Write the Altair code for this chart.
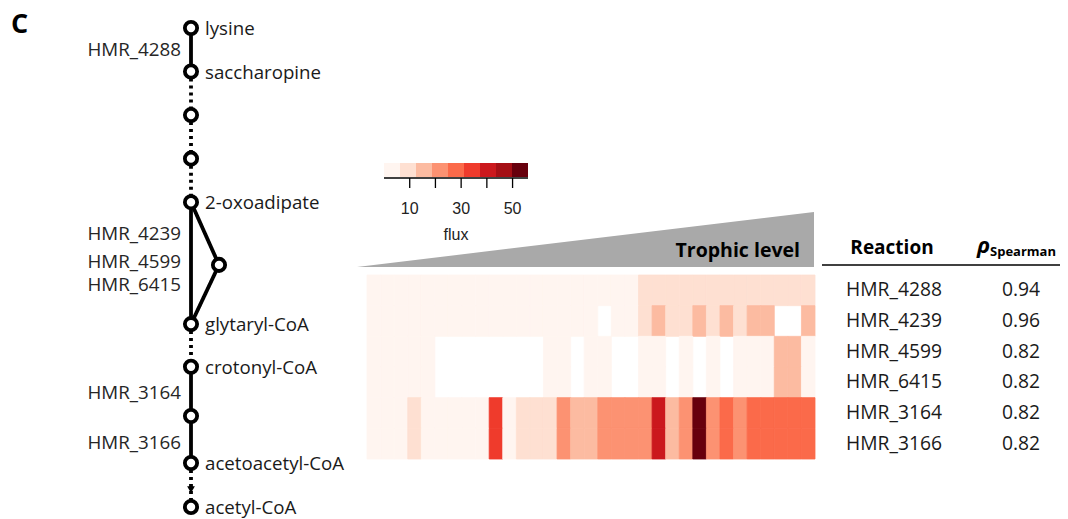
import altair as alt
import pandas as pd

# ---------------- data ----------------
reactions = ["HMR_4288", "HMR_4239", "HMR_4599", "HMR_6415", "HMR_3164", "HMR_3166"]
rho_values = ["0.94", "0.96", "0.82", "0.82", "0.82", "0.82"]

# flux per sample (33 samples ordered by trophic level); None = no flux (white cell)
flux_4288 = [3] * 20 + [9] * 13
flux_4239 = [3] * 17 + [None] + [3, 3] + [9, 15, 9, 9, 15, 9, 15, 9, 15, 15, None, None, 15]
flux_4599 = ([3] * 5 + [None] * 8 + [3, 3, None, 3, 3, None, None, 3, 3, None, 3, None, 3, None]
             + [3, 3, 3, 15, 15, 3])
flux_6415 = list(flux_4599)
flux_3164 = ([3, 3, 3, 9, 3, 3, 3, 3, 3, 34, 3, 9, 9, 9, 21, 15, 15, 21, 21, 21, 21, 40, 15, 21, 54,
              21, 28, 21, 28, 28, 28, 28, 28])
flux_3166 = list(flux_3164)
flux_rows = [flux_4288, flux_4239, flux_4599, flux_6415, flux_3164, flux_3166]

reds9 = ["#fff5f0", "#fee0d2", "#fcbba1", "#fc9272", "#fb6a4a",
         "#ef3b2c", "#cb181d", "#a50f15", "#67000d"]
flux_max = 56
legend_lo = [0, 6.22, 12.44, 18.67, 24.89, 31.11, 37.33, 43.56, 49.78]
legend_hi = [6.22, 12.44, 18.67, 24.89, 31.11, 37.33, 43.56, 49.78, 56]
legend_ticks = [10, 20, 30, 40, 50]
legend_labels = [10, 30, 50]

# pathway: nodes (level = vertical slot, branch = 0 main line / 1 side)
node_names = ["lysine", "saccharopine", "", "", "2-oxoadipate", "", "glytaryl-CoA",
              "crotonyl-CoA", "", "acetoacetyl-CoA", "acetyl-CoA"]
node_level = [0, 1, 2, 3, 4, 5.44, 6.8, 7.78, 8.91, 9.99, 11]
node_branch = [0, 0, 0, 0, 0, 1, 0, 0, 0, 0, 0]
edge_from = [0, 1, 2, 3, 4, 4, 5, 6, 7, 8, 9]
edge_to = [1, 2, 3, 4, 6, 5, 6, 7, 8, 9, 10]
edge_style = ["solid", "dotted", "dotted", "dotted", "solid", "solid", "solid",
              "dotted", "solid", "solid", "dotted"]
arrow_level = [10.6]
rxn_label_names = ["HMR_4288", "HMR_4239", "HMR_4599", "HMR_6415", "HMR_3164", "HMR_3166"]
rxn_label_level = [0.5, 4.74, 5.37, 5.91, 8.39, 9.53]

FONT = "Open Sans"
TXT = "#1a1a1a"

# ---------------- tables ----------------
cells = []
for r, row in zip(reactions, flux_rows):
    for i, v in enumerate(row):
        if v is not None:
            cells.append({"reaction": r, "col": i, "col_end": i + 1, "flux": v})
heat_df = pd.DataFrame(cells)

nodes_df = pd.DataFrame({"name": node_names, "level": node_level, "branch": node_branch})
edges_df = pd.DataFrame({
    "y": [node_level[a] for a in edge_from], "y2": [node_level[b] for b in edge_to],
    "x": [node_branch[a] for a in edge_from], "x2": [node_branch[b] for b in edge_to],
    "style": edge_style})
arrow_df = pd.DataFrame({"level": arrow_level, "branch": [0]})
rxn_df = pd.DataFrame({"name": rxn_label_names, "level": rxn_label_level, "branch": 0})
legend_df = pd.DataFrame({"lo": legend_lo, "hi": legend_hi,
                          "mid": [(a + b) / 2 for a, b in zip(legend_lo, legend_hi)]})
ticks_df = pd.DataFrame({"v": legend_ticks})
labels_df = pd.DataFrame({"v": legend_labels})
table_df = pd.DataFrame({"reaction": reactions, "rho": rho_values})
tri_df = pd.DataFrame({"t": [0, 1], "lvl": [0, 1]})

# ---------------- scales ----------------
px = alt.Scale(domain=[0, 1], range=[183, 211])
py = alt.Scale(domain=[0, 11], range=[20, 499])
hx = alt.Scale(domain=[0, 33], range=[359, 807])
hy = alt.Scale(domain=reactions, range=[267, 451], paddingInner=0, paddingOuter=0)
lx = alt.Scale(domain=[0, flux_max], range=[376, 520])
cscale = alt.Scale(type="quantize", domain=[0, flux_max], range=reds9, nice=False)

# ---------------- pathway ----------------
edges = alt.Chart(edges_df).mark_rule(strokeWidth=3.8, color="black").encode(
    x=alt.X("x:Q", scale=px, axis=None), x2="x2:Q",
    y=alt.Y("y:Q", scale=py, axis=None), y2="y2:Q",
    strokeDash=alt.StrokeDash("style:N", scale=alt.Scale(domain=["solid", "dotted"],
                                                          range=[[1, 0], [3, 4]]), legend=None))
arrow = alt.Chart(arrow_df).mark_point(shape="triangle-down", filled=True, color="black",
                                       size=60, opacity=1).encode(
    x=alt.X("branch:Q", scale=px, axis=None), y=alt.Y("level:Q", scale=py, axis=None))
nodes = alt.Chart(nodes_df).mark_point(shape="circle", filled=False, fill="white",
                                       stroke="black", strokeWidth=3.8, size=150,
                                       opacity=1).encode(
    x=alt.X("branch:Q", scale=px, axis=None), y=alt.Y("level:Q", scale=py, axis=None))
node_text = alt.Chart(nodes_df).mark_text(align="left", baseline="middle", dx=14, dy=1,
                                          font=FONT, fontSize=18.7, color=TXT).encode(
    x=alt.X("branch:Q", scale=px, axis=None), y=alt.Y("level:Q", scale=py, axis=None),
    text="name:N")
rxn_text = alt.Chart(rxn_df).mark_text(align="right", baseline="middle", dx=-10,
                                       font=FONT, fontSize=18.8, color="#262626").encode(
    x=alt.X("branch:Q", scale=px, axis=None), y=alt.Y("level:Q", scale=py, axis=None),
    text="name:N")

# ---------------- legend ----------------
leg_rect = alt.Chart(legend_df).mark_rect().encode(
    x=alt.X("lo:Q", scale=lx, axis=None), x2="hi:Q",
    y=alt.value(155), y2=alt.value(169),
    color=alt.Color("mid:Q", scale=cscale, legend=None))
leg_line = alt.Chart(legend_df).mark_rule(color="black", strokeWidth=1.3).encode(
    x=alt.X("min(lo):Q", scale=lx, axis=None), x2="max(hi):Q", y=alt.value(170))
leg_ticks = alt.Chart(ticks_df).mark_rule(color="black", strokeWidth=1.3).encode(
    x=alt.X("v:Q", scale=lx, axis=None), y=alt.value(170), y2=alt.value(180))
leg_labels = alt.Chart(labels_df).mark_text(font="Liberation Sans", fontSize=16,
                                            baseline="middle", color="#222").encode(
    x=alt.X("v:Q", scale=lx, axis=None), y=alt.value(201), text="v:Q")
leg_title = alt.Chart(pd.DataFrame({"v": [28], "t": ["flux"]})).mark_text(
    font="Liberation Sans", fontSize=16, baseline="middle", color="#222").encode(
    x=alt.X("v:Q", scale=lx, axis=None), y=alt.value(227), text="t:N")

# ---------------- trophic triangle ----------------
tri = alt.Chart(tri_df).mark_area(color="#a9a9a9").encode(
    x=alt.X("t:Q", scale=alt.Scale(domain=[0, 1], range=[349, 806]), axis=None),
    y=alt.Y("lvl:Q", scale=alt.Scale(domain=[0, 1], range=[259, 204]), axis=None))
tri_text = alt.Chart(pd.DataFrame({"t": ["Trophic level"]})).mark_text(
    align="right", baseline="alphabetic", font=FONT, fontSize=19.5, fontWeight="bold",
    color="black").encode(x=alt.value(792), y=alt.value(249), text="t:N")

# ---------------- heatmap ----------------
heat = alt.Chart(heat_df).mark_rect(strokeWidth=0.8).encode(
    x=alt.X("col:Q", scale=hx, axis=None), x2="col_end:Q",
    y=alt.Y("reaction:N", scale=hy, axis=None, sort=reactions),
    color=alt.Color("flux:Q", scale=cscale, legend=None),
    stroke=alt.Stroke("flux:Q", scale=cscale, legend=None))

# ---------------- table ----------------
tab_rxn = alt.Chart(table_df).mark_text(font=FONT, fontSize=19.3, color=TXT,
                                        baseline="middle").encode(
    x=alt.value(886), y=alt.Y("reaction:N", scale=hy, axis=None, sort=reactions),
    text="reaction:N")
tab_rho = alt.Chart(table_df).mark_text(font=FONT, fontSize=19.3, color=TXT,
                                        baseline="middle").encode(
    x=alt.value(1013), y=alt.Y("reaction:N", scale=hy, axis=None, sort=reactions),
    text="rho:N")
hdr_line = alt.Chart(pd.DataFrame({"a": [0]})).mark_rule(color="black", strokeWidth=1.5).encode(
    x=alt.value(814), x2=alt.value(1060), y=alt.value(257))
hdr_rxn = alt.Chart(pd.DataFrame({"t": ["Reaction"]})).mark_text(
    font=FONT, fontSize=19, fontWeight="bold", color="black", baseline="middle").encode(
    x=alt.value(884), y=alt.value(240), text="t:N")
hdr_rho = alt.Chart(pd.DataFrame({"t": ["ρ"]})).mark_text(
    font=FONT, fontSize=22, fontWeight="bold", fontStyle="italic", color="black",
    align="left", baseline="alphabetic").encode(
    x=alt.value(969), y=alt.value(245), text="t:N")
hdr_sp = alt.Chart(pd.DataFrame({"t": ["Spearman"]})).mark_text(
    font=FONT, fontSize=13, fontWeight="bold", color="black",
    align="left", baseline="alphabetic").encode(
    x=alt.value(982), y=alt.value(248), text="t:N")

panel = alt.Chart(pd.DataFrame({"t": ["C"]})).mark_text(
    font=FONT, fontSize=27, fontWeight="bold", color="black",
    align="left", baseline="middle").encode(x=alt.value(3), y=alt.value(17), text="t:N")

chart = alt.layer(
    edges, arrow, nodes, node_text, rxn_text,
    leg_rect, leg_line, leg_ticks, leg_labels, leg_title,
    tri, tri_text, heat,
    tab_rxn, tab_rho, hdr_line, hdr_rxn, hdr_rho, hdr_sp, panel
).resolve_scale(
    x="independent", y="independent", color="independent", strokeDash="independent",
    stroke="independent"
).properties(
    width=1052, height=511, autosize=alt.AutoSizeParams(type="none"), padding=0
).configure(background="white", view=alt.ViewConfig(stroke=None))

chart.save("out.html", embed_options={"renderer": "svg", "actions": False})
